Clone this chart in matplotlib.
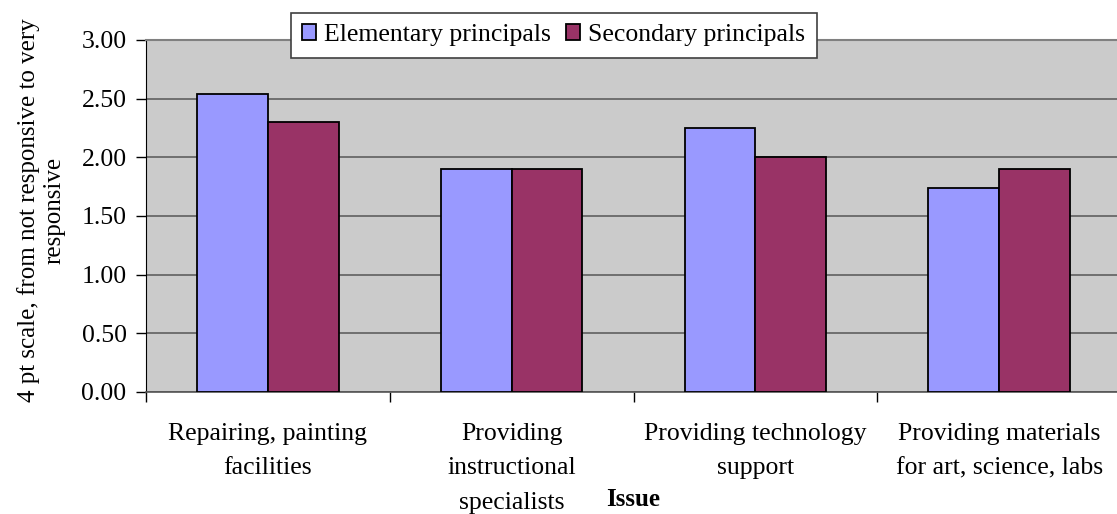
import matplotlib.pyplot as plt
import numpy as np
from matplotlib.ticker import FixedLocator

plt.rcParams['font.family'] = ['Liberation Serif', 'DejaVu Serif']

# data
categories = ['Repairing, painting\nfacilities',
              'Providing\ninstructional\nspecialists',
              'Providing technology\nsupport',
              'Providing materials\nfor art, science, labs']
elementary = [2.54, 1.90, 2.25, 1.74]
secondary = [2.30, 1.90, 2.00, 1.90]
series_names = ['Elementary principals', 'Secondary principals']

W, H = 1117, 514
fig = plt.figure(figsize=(W / 100, H / 100), dpi=100)
# plot area in pixels: left 146, right 1121 (cropped by the image edge), top 40, bottom 392
ax = fig.add_axes([146 / W, 1 - 392 / H, (1121 - 146) / W, (392 - 40) / H])
ax.set_facecolor('#CBCBCB')

x = np.arange(len(categories))
bw = 0.29
ax.bar(x - bw / 2, elementary, bw, color='#9999FF', edgecolor='black', linewidth=1.3,
       label=series_names[0], zorder=3)
ax.bar(x + bw / 2, secondary, bw, color='#993366', edgecolor='black', linewidth=1.3,
       label=series_names[1], zorder=3)

ax.set_xlim(-0.5, len(categories) - 0.5)
ax.set_ylim(0, 3)
ax.set_yticks(np.arange(0, 3.01, 0.5))
ax.set_yticklabels([f'{v:.2f}' for v in np.arange(0, 3.01, 0.5)])
ax.yaxis.grid(True, color='#606060', linewidth=1.2, zorder=1)
ax.set_axisbelow(True)

ax.set_xticks(x)
ax.set_xticklabels(categories, linespacing=1.75)
ax.xaxis.set_minor_locator(FixedLocator(np.arange(-0.5, len(categories), 1.0)))
ax.tick_params(axis='x', which='major', length=0, pad=22, labelsize=18.5)
ax.tick_params(axis='x', which='minor', length=7, width=1, color='black', direction='out')
ax.tick_params(axis='y', length=7, width=1, pad=7, labelsize=18.5, direction='out')

ax.spines['right'].set_visible(False)
ax.spines['top'].set_color('#808080')
ax.spines['top'].set_linewidth(1.5)
ax.spines['left'].set_color('black')
ax.spines['bottom'].set_color('#555555')
ax.spines['bottom'].set_linewidth(1.2)

ax.set_ylabel('4 pt scale, from not responsive to very\nresponsive', fontsize=18,
              linespacing=1.2)
ax.yaxis.set_label_coords((65 - 146) / (1121 - 146), (392 - 210) / (392 - 40))

# axis title sits in the middle of the plot area, beside the last label line
fig.text(633 / W, 1 - 500 / H, 'Issue', fontsize=18, fontweight='bold',
         ha='center', va='center')

leg = ax.legend(loc='center', bbox_to_anchor=(0.418, 1.014), ncol=2, fontsize=18.5,
                frameon=True, fancybox=False, framealpha=1, edgecolor='#404040',
                handlelength=0.55, handleheight=0.55, handletextpad=0.3,
                columnspacing=0.6, borderpad=0.45, borderaxespad=0)
leg.get_frame().set_linewidth(1.2)

fig.savefig('out.png', dpi=100)
